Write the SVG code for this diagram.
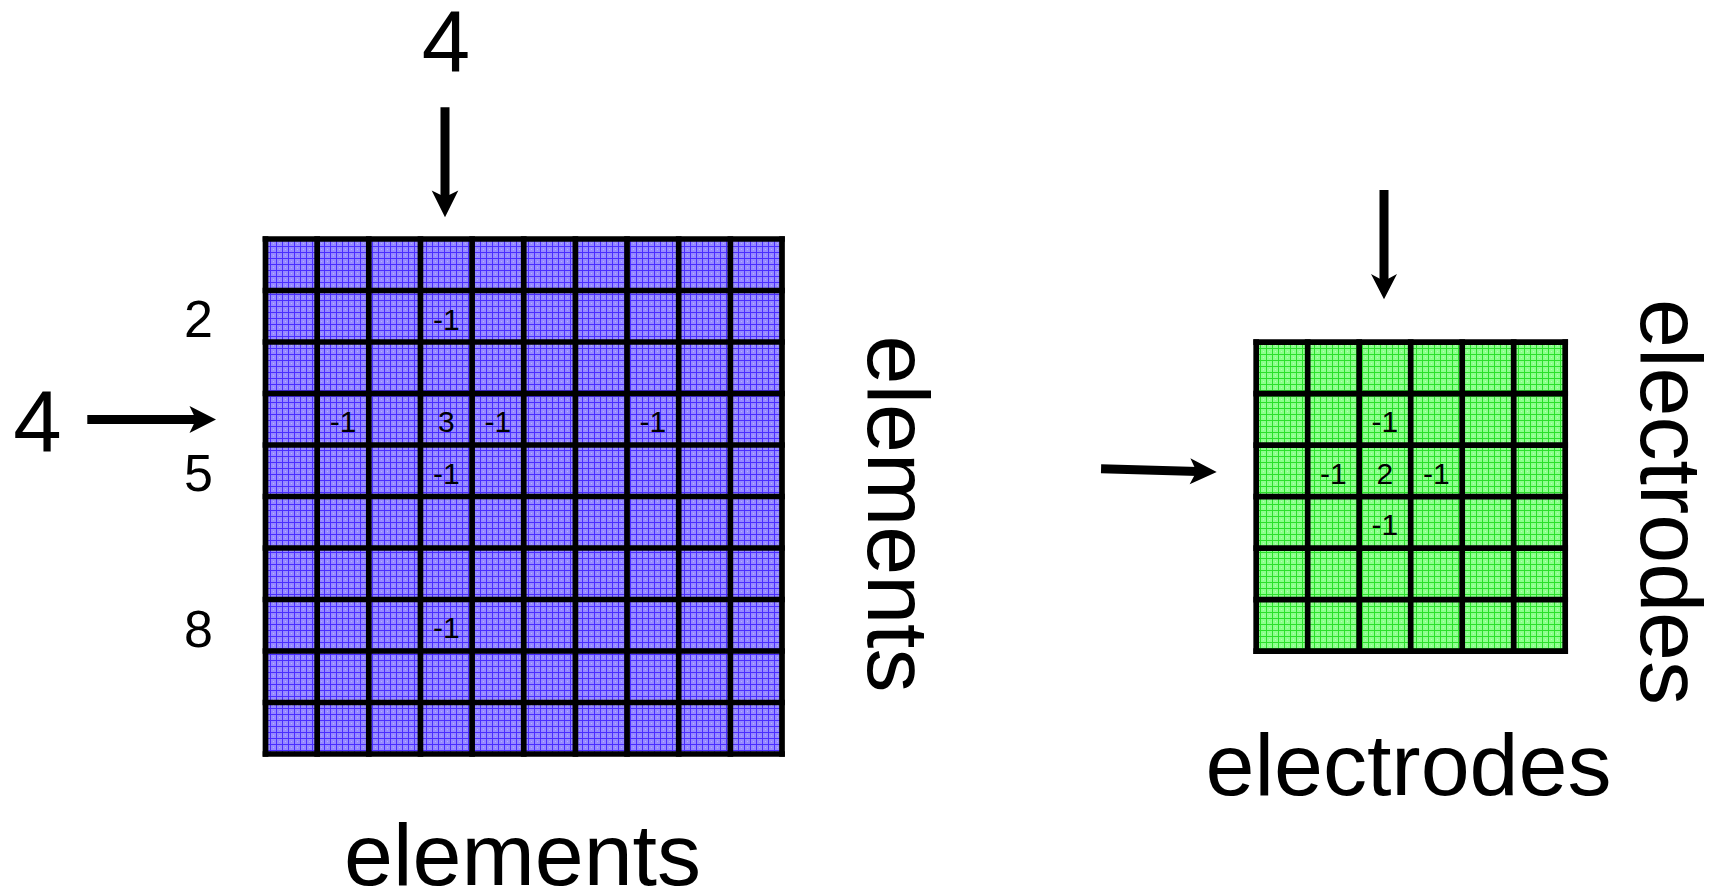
<svg xmlns="http://www.w3.org/2000/svg" width="1718" height="890" viewBox="0 0 1718 890">
  <defs>
    <!-- textured cell fills -->
    <pattern id="texBlue" width="6" height="6" patternUnits="userSpaceOnUse">
      <rect width="6" height="6" fill="#968aff"/>
      <rect x="3" y="3" width="1" height="1" fill="#b6aeff"/>
      <path d="M0 0.5H6M0.5 0V6" stroke="#4a2eff" stroke-width="1"/>
    </pattern>
    <pattern id="texGreen" width="6" height="6" patternUnits="userSpaceOnUse">
      <rect width="6" height="6" fill="#8cff8c"/>
      <rect x="3" y="3" width="1" height="1" fill="#b4ffb4"/>
      <path d="M0 0.5H6M0.5 0V6" stroke="#2be02b" stroke-width="1"/>
    </pattern>
  </defs>
  <style>
    text { font-family: "Liberation Sans", Arial, sans-serif; fill: #000; }
    .cell { font-size: 30px; text-anchor: middle; }
    .row { font-size: 52px; text-anchor: middle; }
    .big { font-size: 87px; text-anchor: middle; }
    .axis { font-size: 88px; text-anchor: middle; }
    .grid line { stroke: #000; stroke-width: 5.7; }
    .shaft { stroke: #000; stroke-width: 9; fill: none; }
    .head { fill: #000; }
  </style>

  <!-- 10 x 10 element matrix -->
  <g id="element-matrix" class="grid">
    <rect x="265.5" y="239" width="516.5" height="515" fill="url(#texBlue)"/>
    <line x1="265.5" y1="236.15" x2="265.5" y2="756.85"/>
    <line x1="317.15" y1="236.15" x2="317.15" y2="756.85"/>
    <line x1="368.8" y1="236.15" x2="368.8" y2="756.85"/>
    <line x1="420.45" y1="236.15" x2="420.45" y2="756.85"/>
    <line x1="472.1" y1="236.15" x2="472.1" y2="756.85"/>
    <line x1="523.75" y1="236.15" x2="523.75" y2="756.85"/>
    <line x1="575.4" y1="236.15" x2="575.4" y2="756.85"/>
    <line x1="627.05" y1="236.15" x2="627.05" y2="756.85"/>
    <line x1="678.7" y1="236.15" x2="678.7" y2="756.85"/>
    <line x1="730.35" y1="236.15" x2="730.35" y2="756.85"/>
    <line x1="782" y1="236.15" x2="782" y2="756.85"/>
    <line x1="262.65" y1="239" x2="784.85" y2="239"/>
    <line x1="262.65" y1="290.5" x2="784.85" y2="290.5"/>
    <line x1="262.65" y1="342" x2="784.85" y2="342"/>
    <line x1="262.65" y1="393.5" x2="784.85" y2="393.5"/>
    <line x1="262.65" y1="445" x2="784.85" y2="445"/>
    <line x1="262.65" y1="496.5" x2="784.85" y2="496.5"/>
    <line x1="262.65" y1="548" x2="784.85" y2="548"/>
    <line x1="262.65" y1="599.5" x2="784.85" y2="599.5"/>
    <line x1="262.65" y1="651" x2="784.85" y2="651"/>
    <line x1="262.65" y1="702.5" x2="784.85" y2="702.5"/>
    <line x1="262.65" y1="754" x2="784.85" y2="754"/>
    <!-- stencil entries -->
    <text class="cell" x="446.3" y="329.5">-1</text>
    <text class="cell" x="343" y="432.3">-1</text>
    <text class="cell" x="446.3" y="432.3">3</text>
    <text class="cell" x="497.9" y="432.3">-1</text>
    <text class="cell" x="652.9" y="432.3">-1</text>
    <text class="cell" x="446.3" y="483.8">-1</text>
    <text class="cell" x="446.3" y="638.3">-1</text>
  </g>

  <!-- row indices -->
  <g id="row-labels">
    <text class="row" x="198.5" y="337.3">2</text>
    <text class="row" x="198.5" y="490.7">5</text>
    <text class="row" x="198.5" y="646.7">8</text>
  </g>

  <!-- counts -->
  <g id="count-top"><text class="big" x="446" y="71.5">4</text></g>
  <g id="count-left"><text class="big" x="37.5" y="451.5">4</text></g>

  <!-- axis titles for the element matrix -->
  <g id="elements-bottom"><text class="axis" x="522.5" y="885">elements</text></g>
  <g id="elements-side"><text class="axis" transform="translate(867.5,514) rotate(90)">elements</text></g>

  <!-- 6 x 6 electrode matrix -->
  <g id="electrode-matrix" class="grid">
    <rect x="1256.2" y="342.2" width="309" height="309" fill="url(#texGreen)"/>
    <line x1="1256.2" y1="339.35" x2="1256.2" y2="654.05"/>
    <line x1="1307.7" y1="339.35" x2="1307.7" y2="654.05"/>
    <line x1="1359.2" y1="339.35" x2="1359.2" y2="654.05"/>
    <line x1="1410.7" y1="339.35" x2="1410.7" y2="654.05"/>
    <line x1="1462.2" y1="339.35" x2="1462.2" y2="654.05"/>
    <line x1="1513.7" y1="339.35" x2="1513.7" y2="654.05"/>
    <line x1="1565.2" y1="339.35" x2="1565.2" y2="654.05"/>
    <line x1="1253.35" y1="342.2" x2="1568.05" y2="342.2"/>
    <line x1="1253.35" y1="393.7" x2="1568.05" y2="393.7"/>
    <line x1="1253.35" y1="445.2" x2="1568.05" y2="445.2"/>
    <line x1="1253.35" y1="496.7" x2="1568.05" y2="496.7"/>
    <line x1="1253.35" y1="548.2" x2="1568.05" y2="548.2"/>
    <line x1="1253.35" y1="599.7" x2="1568.05" y2="599.7"/>
    <line x1="1253.35" y1="651.2" x2="1568.05" y2="651.2"/>
    <!-- stencil entries -->
    <text class="cell" x="1384.9" y="432.2">-1</text>
    <text class="cell" x="1333.4" y="483.7">-1</text>
    <text class="cell" x="1384.9" y="483.7">2</text>
    <text class="cell" x="1436.4" y="483.7">-1</text>
    <text class="cell" x="1384.9" y="535.2">-1</text>
  </g>

  <!-- axis titles for the electrode matrix -->
  <g id="electrodes-bottom"><text class="axis" x="1408.5" y="795">electrodes</text></g>
  <g id="electrodes-side"><text class="axis" transform="translate(1641,502) rotate(90)">electrodes</text></g>

  <!-- arrows -->
  <g id="connectors">
    <g id="arrow-top-elements">
      <line class="shaft" x1="445" y1="107.3" x2="445" y2="200"/>
      <polygon class="head" points="445,217.3 431.7,190.5 445,197 458.3,190.5"/>
    </g>
    <g id="arrow-left-elements">
      <line class="shaft" x1="87.3" y1="419.5" x2="198" y2="419.5"/>
      <polygon class="head" points="216,419.5 189.5,406 196,419.5 189.5,433"/>
    </g>
    <g id="arrow-top-electrodes">
      <line class="shaft" x1="1384" y1="190" x2="1384" y2="284"/>
      <polygon class="head" points="1384,299.3 1371,274 1384,281 1397,274"/>
    </g>
    <g id="arrow-left-electrodes" transform="rotate(1.65,1216.7,472)">
      <line class="shaft" x1="1101" y1="472" x2="1198" y2="472"/>
      <polygon class="head" points="1216.7,472 1190,459 1196.5,472 1190,485"/>
    </g>
  </g>
</svg>
